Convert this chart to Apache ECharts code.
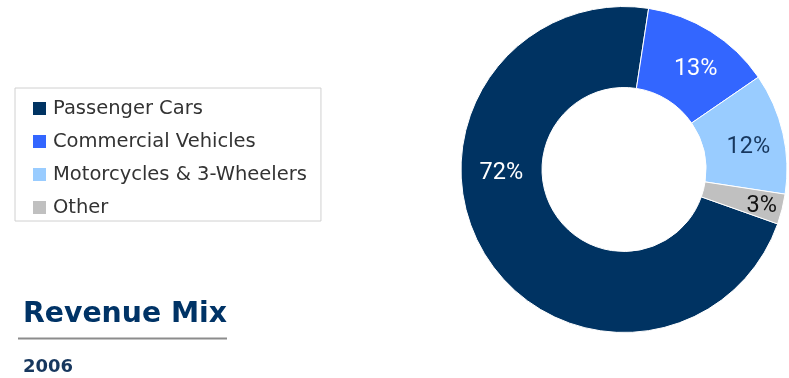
<!DOCTYPE html>
<html>
<head>
<meta charset="utf-8">
<script src="https://cdn.jsdelivr.net/npm/echarts@6/dist/echarts.min.js"></script>
<style>
html, body { margin: 0; padding: 0; background: #fff; }
#chart { width: 789px; height: 378px; }
</style>
</head>
<body>
<div id="chart"></div>
<script>
var categories = ['Passenger Cars', 'Commercial Vehicles', 'Motorcycles & 3-Wheelers', 'Other'];
var shares = [72, 13, 12, 3];
var colors = ['#003362', '#3366ff', '#99ccff', '#c0c0c0'];
var labelColors = ['#ffffff', '#ffffff', '#17375e', '#111111'];
// label nudges so they sit where the original had them
var labelShift = [[-15, -61], [5, 6], [2, 6], [16, 6]];

var myChart = echarts.init(document.getElementById('chart'));

var pieData = [];
for (var i = 0; i < categories.length; i++) {
	pieData.push({
		name : categories[i],
		value : shares[i],
		itemStyle : { color : colors[i] },
		label : { color : labelColors[i] }
	});
}

var option = {
	animation : false,
	title : [ {
		text : 'Revenue Mix',
		left : 18,
		top : 296,
		textStyle : {
			fontFamily : 'DejaVu Sans',
			fontWeight : 'bold',
			fontSize : 28.3,
			color : '#003366'
		}
	}, {
		text : '2006',
		left : 18,
		top : 353,
		textStyle : {
			fontFamily : 'DejaVu Sans',
			fontWeight : 'bold',
			fontSize : 18,
			color : '#17375e'
		}
	} ],
	graphic : [ {
		type : 'line',
		shape : { x1 : 18, y1 : 338.5, x2 : 227, y2 : 338.5 },
		style : { stroke : '#8c8c8c', lineWidth : 2 }
	} ],
	legend : {
		orient : 'vertical',
		left : 15,
		top : 88,
		data : categories,
		icon : 'rect',
		itemWidth : 13,
		itemHeight : 13,
		itemGap : 13,
		itemStyle : { borderWidth : 0 },
		padding : [10.5, 14, 3.5, 18],
		borderColor : '#d0d0d0',
		borderWidth : 1,
		textStyle : {
			fontFamily : 'DejaVu Sans',
			fontSize : 19.5,
			lineHeight : 20,
			color : '#333333',
			padding : [0, 0, 0, 2]
		}
	},
	series : [ {
		name : 'Revenue Mix',
		type : 'pie',
		center : [624, 169.5],
		radius : [82, 163],
		startAngle : -19.5,
		clockwise : true,
		avoidLabelOverlap : false,
		itemStyle : { borderColor : '#ffffff', borderWidth : 1 },
		label : {
			show : true,
			position : 'inner',
			formatter : '{c}%',
			fontFamily : 'Roboto',
			fontSize : 23.5
		},
		labelLine : { show : false },
		labelLayout : function(p) {
			var s = labelShift[p.dataIndex];
			return { dx : s[0], dy : s[1] };
		},
		emphasis : { disabled : true },
		data : pieData
	} ]
};
myChart.setOption(option);
</script>
</body>
</html>
